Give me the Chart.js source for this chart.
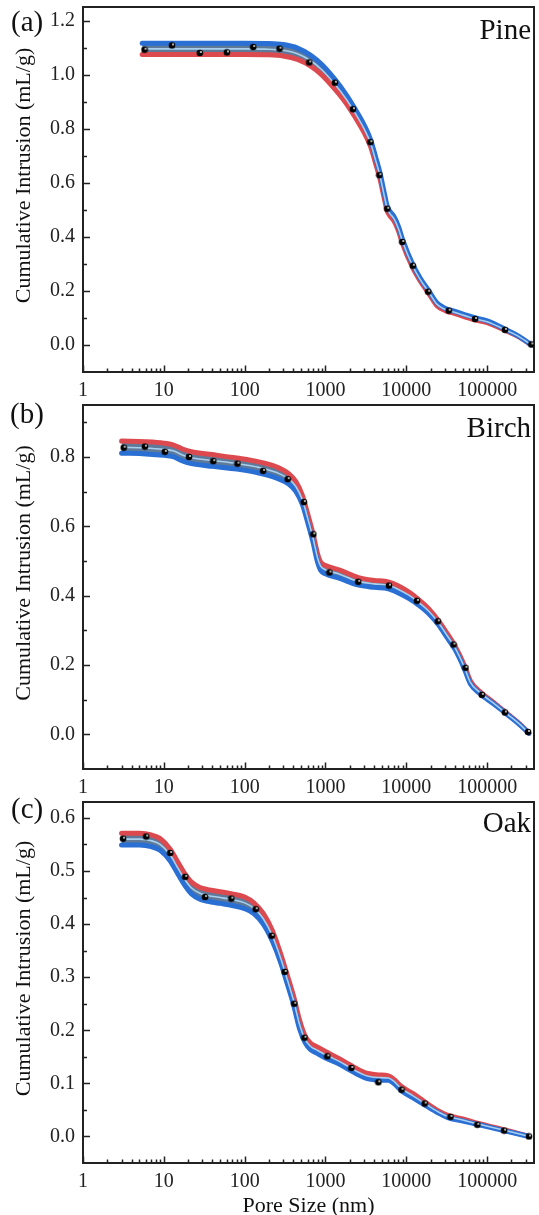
<!DOCTYPE html>
<html><head><meta charset="utf-8">
<script src="https://cdn.jsdelivr.net/npm/chart.js@4.4.1/dist/chart.umd.min.js"></script>
<style>
html,body{margin:0;padding:0;background:#fff;overflow:hidden;width:539px;height:1215px;}
canvas{position:absolute;left:0;display:block;}
</style></head><body>
<canvas id="cA" width="539" height="400" style="top:0px"></canvas>
<canvas id="cB" width="539" height="397" style="top:400px"></canvas>
<canvas id="cC" width="539" height="418" style="top:797px"></canvas>
<script>
// ---------- tick labels ----------
const xTicks = [1, 10, 100, 1000, 10000, 100000];
const yTicksA = [0.0, 0.2, 0.4, 0.6, 0.8, 1.0, 1.2];
const yMinorA = [0.1, 0.3, 0.5, 0.7, 0.9, 1.1];
const yTicksB = [0.0, 0.2, 0.4, 0.6, 0.8];
const yMinorB = [0.1, 0.3, 0.5, 0.7, 0.9];
const yTicksC = [0.0, 0.1, 0.2, 0.3, 0.4, 0.5, 0.6];
const yMinorC = [0.05, 0.15, 0.25, 0.35, 0.45, 0.55];

// ---------- (a) Pine ----------
const poreA = [5.4, 10, 20, 50, 100, 200, 300, 450, 650, 900, 1300, 1800, 2300, 3000, 3600, 4200, 4700, 5400, 5800, 6300, 7000, 8000, 9000, 12000, 15000, 19000, 24000, 30000, 40000, 70000, 100000, 170000, 250000, 352000];
const midA  = [1.095, 1.095, 1.095, 1.095, 1.095, 1.094, 1.090, 1.077, 1.052, 1.018, 0.965, 0.910, 0.860, 0.800, 0.748, 0.680, 0.628, 0.545, 0.505, 0.485, 0.468, 0.430, 0.382, 0.292, 0.240, 0.195, 0.150, 0.132, 0.120, 0.097, 0.086, 0.055, 0.030, 0.000];
const blueA = [1.116, 1.116, 1.116, 1.116, 1.116, 1.115, 1.111, 1.098, 1.072, 1.037, 0.983, 0.926, 0.875, 0.814, 0.761, 0.692, 0.639, 0.555, 0.514, 0.493, 0.476, 0.438, 0.390, 0.298, 0.245, 0.200, 0.155, 0.136, 0.124, 0.101, 0.089, 0.057, 0.031, 0.000];
const redA  = [1.074, 1.074, 1.074, 1.074, 1.074, 1.073, 1.069, 1.056, 1.032, 0.999, 0.947, 0.894, 0.845, 0.786, 0.735, 0.668, 0.617, 0.535, 0.496, 0.477, 0.460, 0.422, 0.374, 0.286, 0.235, 0.190, 0.145, 0.128, 0.116, 0.093, 0.083, 0.053, 0.029, 0.000];
const markXA = [5.77, 12.6, 27.9, 60.3, 127.6, 270, 630, 1309, 2190, 3596, 4645, 5808, 8912, 12040, 18620, 33500, 70800, 166000, 352000];
const markYA = [1.092, 1.108, 1.080, 1.082, 1.102, 1.096, 1.045, 0.970, 0.872, 0.750, 0.628, 0.504, 0.381, 0.293, 0.197, 0.127, 0.096, 0.056, 0.002];

// ---------- (b) Birch ----------
const poreB = [3.0, 6, 10, 13, 17, 22, 40, 80, 150, 250, 350, 430, 520, 600, 700, 800, 870, 1000, 1500, 2500, 4000, 6000, 8000, 11000, 14000, 19000, 25000, 32000, 40000, 52000, 62000, 80000, 120000, 180000, 250000, 330000];
const midB  = [0.828, 0.826, 0.822, 0.818, 0.806, 0.798, 0.790, 0.781, 0.770, 0.755, 0.737, 0.715, 0.675, 0.625, 0.567, 0.508, 0.485, 0.475, 0.462, 0.442, 0.434, 0.430, 0.418, 0.400, 0.382, 0.355, 0.322, 0.285, 0.250, 0.195, 0.150, 0.122, 0.090, 0.057, 0.030, 0.003];
const redB  = [0.846, 0.844, 0.840, 0.835, 0.823, 0.815, 0.807, 0.797, 0.786, 0.771, 0.752, 0.729, 0.688, 0.637, 0.579, 0.520, 0.497, 0.487, 0.474, 0.453, 0.444, 0.440, 0.428, 0.409, 0.390, 0.362, 0.328, 0.291, 0.255, 0.200, 0.154, 0.125, 0.092, 0.058, 0.031, 0.003];
const blueB = [0.811, 0.809, 0.805, 0.801, 0.789, 0.781, 0.773, 0.765, 0.754, 0.739, 0.722, 0.701, 0.662, 0.613, 0.555, 0.496, 0.473, 0.463, 0.450, 0.431, 0.424, 0.420, 0.408, 0.391, 0.374, 0.348, 0.316, 0.279, 0.245, 0.190, 0.146, 0.119, 0.088, 0.056, 0.029, 0.003];
const markXB = [3.19, 5.83, 10.3, 20.5, 40.9, 81.5, 169, 341, 540, 708, 1120, 2540, 6100, 13550, 24500, 38400, 53900, 86000, 166000, 320000];
const markYB = [0.827, 0.830, 0.815, 0.800, 0.788, 0.781, 0.760, 0.736, 0.670, 0.577, 0.467, 0.440, 0.429, 0.385, 0.326, 0.259, 0.192, 0.114, 0.063, 0.007];

// ---------- (c) Oak ----------
const poreC = [3.0, 5, 7, 9, 12, 15, 18, 22, 28, 35, 50, 70, 100, 130, 170, 220, 280, 330, 400, 480, 560, 650, 800, 1000, 1500, 2000, 3000, 3500, 4500, 6000, 7000, 8700, 12000, 17000, 25000, 32000, 50000, 80000, 160000, 330000];
const midC  = [0.560, 0.560, 0.557, 0.550, 0.530, 0.505, 0.485, 0.468, 0.458, 0.454, 0.450, 0.446, 0.440, 0.430, 0.410, 0.378, 0.335, 0.300, 0.258, 0.210, 0.183, 0.170, 0.162, 0.154, 0.141, 0.130, 0.116, 0.113, 0.111, 0.110, 0.104, 0.090, 0.077, 0.062, 0.046, 0.038, 0.031, 0.023, 0.012, 0.000];
const redC  = [0.571, 0.571, 0.568, 0.561, 0.541, 0.516, 0.496, 0.479, 0.469, 0.465, 0.461, 0.457, 0.451, 0.440, 0.420, 0.388, 0.343, 0.308, 0.266, 0.218, 0.189, 0.176, 0.168, 0.160, 0.146, 0.135, 0.121, 0.118, 0.116, 0.114, 0.108, 0.094, 0.081, 0.065, 0.048, 0.040, 0.033, 0.024, 0.013, 0.000];
const blueC = [0.549, 0.549, 0.546, 0.539, 0.519, 0.494, 0.474, 0.457, 0.447, 0.443, 0.439, 0.435, 0.429, 0.420, 0.400, 0.368, 0.327, 0.292, 0.250, 0.202, 0.177, 0.164, 0.156, 0.148, 0.136, 0.125, 0.111, 0.108, 0.106, 0.106, 0.100, 0.086, 0.073, 0.059, 0.044, 0.036, 0.029, 0.022, 0.011, 0.000];
const markXC = [3.13, 6.06, 12.0, 18.4, 32.4, 68.4, 137, 216, 313, 411, 550, 1055, 2090, 4510, 8720, 16900, 35200, 75700, 162000, 330000];
const markYC = [0.561, 0.565, 0.534, 0.489, 0.451, 0.448, 0.428, 0.378, 0.310, 0.250, 0.186, 0.151, 0.129, 0.102, 0.088, 0.062, 0.037, 0.022, 0.011, 0.000];

// ---------- styling ----------
const FONT = "'Liberation Serif', 'Times New Roman', serif";
const BLUE = '#2a6fd3';
const RED = '#dc4a50';
const BAND = '#5f7a98';
const MID = '#a9cfee';
const AXIS = '#222';
const X_MIN = 1, X_MAX = 380000;

const xMinor = [];
for (let k = 0; k < 6; k++) for (let m = 2; m <= 9; m++) { const v = m * Math.pow(10, k); if (v < X_MAX) xMinor.push(v); }

// sphere-like marker
const sphere = document.createElement('canvas');
sphere.width = 8; sphere.height = 8;
(function(){
  const c = sphere.getContext('2d');
  c.fillStyle = '#000'; c.beginPath(); c.arc(4, 4, 3.3, 0, Math.PI * 2); c.fill();
  c.fillStyle = 'rgba(255,255,255,0.85)'; c.beginPath(); c.arc(5, 3, 1.1, 0, Math.PI * 2); c.fill();
})();

function framePlugin(p) {
  return {
    id: 'frame' + p.id,
    beforeDatasetsDraw(chart) {
      const {ctx, chartArea: a, scales: {x, y}} = chart;
      ctx.save();
      ctx.strokeStyle = AXIS; ctx.lineWidth = 1.5;
      ctx.beginPath();
      xTicks.forEach(v => { const px = Math.round(x.getPixelForValue(v)) + 0.5; ctx.moveTo(px, a.bottom); ctx.lineTo(px, a.bottom - 6.5); });
      xMinor.forEach(v => { const px = Math.round(x.getPixelForValue(v)) + 0.5; ctx.moveTo(px, a.bottom); ctx.lineTo(px, a.bottom - 3.5); });
      p.yTicks.forEach(v => { const py = Math.round(y.getPixelForValue(v)) + 0.5; ctx.moveTo(a.left, py); ctx.lineTo(a.left + 7, py); });
      p.yMinor.forEach(v => { const py = Math.round(y.getPixelForValue(v)) + 0.5; ctx.moveTo(a.left, py); ctx.lineTo(a.left + 4, py); });
      ctx.stroke();
      ctx.lineWidth = 2;
      ctx.strokeRect(a.left, a.top, a.right - a.left, a.bottom - a.top);
      ctx.restore();
    },
    afterDraw(chart) {
      const {ctx, chartArea: a} = chart;
      ctx.save();
      ctx.fillStyle = '#111';
      ctx.font = '29px ' + FONT;
      ctx.textBaseline = 'alphabetic';
      ctx.textAlign = 'left';
      ctx.fillText(p.tag, p.tagX, p.tagY - p.top);
      ctx.textAlign = 'right';
      ctx.fillText(p.name, 531, p.nameY - p.top);
      // y title
      ctx.font = '22px ' + FONT;
      ctx.textAlign = 'center'; ctx.textBaseline = 'middle';
      ctx.save();
      ctx.translate(24, (a.top + a.bottom) / 2 - 14);
      ctx.rotate(-Math.PI / 2);
      ctx.fillText('Cumulative Intrusion (mL/g)', 0, 0);
      ctx.restore();
      if (p.xTitle) {
        ctx.fillText('Pore Size (nm)', (a.left + a.right) / 2, 1206 - p.top);
      }
      ctx.restore();
    }
  };
}

function makePanel(p) {
  const lineDs = (xs, ys, color, width, order, extra) => Object.assign({
    data: xs.map((x, i) => ({x: x, y: ys[i]})),
    showLine: true, borderColor: color, borderWidth: width,
    pointRadius: 0, pointHoverRadius: 0,
    cubicInterpolationMode: 'monotone', fill: false, order: order,
    borderJoinStyle: 'round', borderCapStyle: 'round'
  }, extra || {});
  const zeroPad = s => { s.paddingLeft = 0; s.paddingRight = 0; s.paddingTop = 0; s.paddingBottom = 0; };
  new Chart(document.getElementById(p.id), {
    type: 'scatter',
    data: {
      datasets: [
        {data: p.mx.map((x, i) => ({x: x, y: p.my[i]})), pointStyle: sphere, pointRadius: 4, pointHoverRadius: 4, showLine: false, order: 0},
        lineDs(p.x, p.mid, MID, 1.6, 1),
        lineDs(p.x, p.blue, BLUE, 5, 2),
        lineDs(p.x, p.red, RED, 5, 3, {fill: 2, backgroundColor: BAND})
      ]
    },
    options: {
      responsive: false, animation: false, events: [],
      layout: {padding: {left: 0, right: 2, top: p.padTop, bottom: 0}},
      plugins: {legend: {display: false}, tooltip: {enabled: false}, title: {display: false}},
      scales: {
        x: {
          type: 'logarithmic', min: X_MIN, max: X_MAX,
          grid: {display: false, drawTicks: false}, border: {display: false},
          ticks: {font: {family: FONT, size: 20}, color: AXIS, padding: 7, maxRotation: 0, minRotation: 0, autoSkip: false,
                  callback: v => String(v)},
          afterBuildTicks: s => { s.ticks = xTicks.map(v => ({value: v})); },
          afterFit: s => { s.height = p.xH; zeroPad(s); }
        },
        y: {
          type: 'linear', min: p.ymin, max: p.ymax,
          grid: {display: false, drawTicks: false}, border: {display: false},
          ticks: {font: {family: FONT, size: 20}, color: AXIS, padding: 8, autoSkip: false,
                  callback: v => Number(v).toFixed(1)},
          afterBuildTicks: s => { s.ticks = p.yTicks.map(v => ({value: v})); },
          afterFit: s => { s.width = 83; zeroPad(s); }
        }
      }
    },
    plugins: [framePlugin(p)]
  });
}

makePanel({id: 'cA', top: 0, padTop: 7, xH: 28, ymin: -0.1, ymax: 1.25,
  x: poreA, mid: midA, blue: blueA, red: redA, mx: markXA, my: markYA,
  yTicks: yTicksA, yMinor: yMinorA, tag: '(a)', tagX: 11, tagY: 31, name: 'Pine', nameY: 39});
makePanel({id: 'cB', top: 400, padTop: 4, xH: 28, ymin: -0.1, ymax: 0.95,
  x: poreB, mid: midB, blue: blueB, red: redB, mx: markXB, my: markYB,
  yTicks: yTicksB, yMinor: yMinorB, tag: '(b)', tagX: 10, tagY: 423, name: 'Birch', nameY: 437});
makePanel({id: 'cC', top: 797, padTop: 2, xH: 52, ymin: -0.05, ymax: 0.63,
  x: poreC, mid: midC, blue: blueC, red: redC, mx: markXC, my: markYC,
  yTicks: yTicksC, yMinor: yMinorC, tag: '(c)', tagX: 11, tagY: 818, name: 'Oak', nameY: 832, xTitle: true});
</script>
</body></html>
